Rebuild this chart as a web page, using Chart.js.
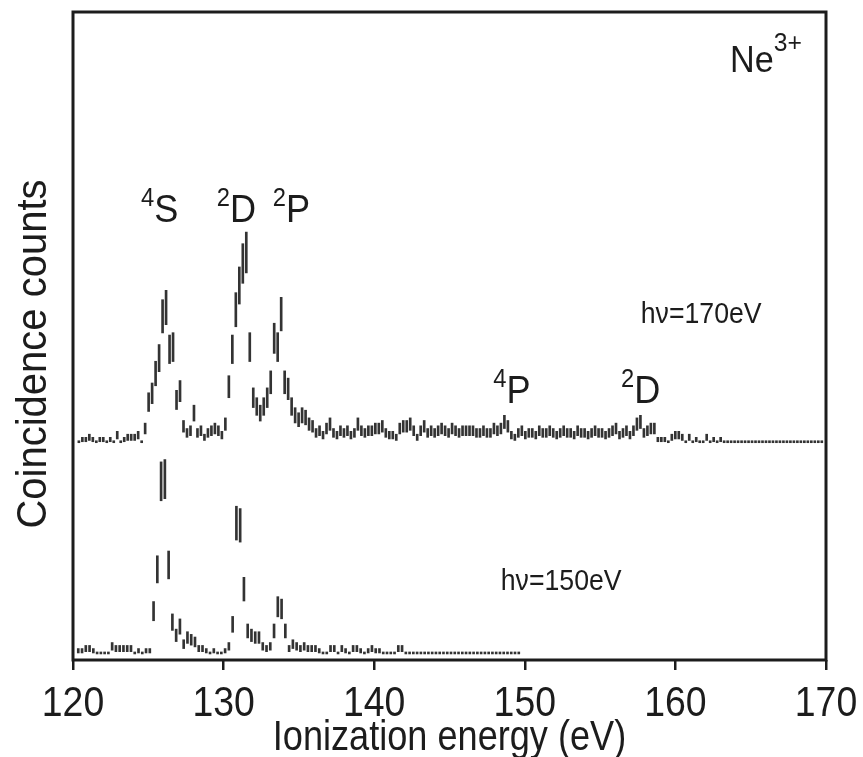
<!DOCTYPE html>
<html>
<head>
<meta charset="utf-8">
<script src="https://cdn.jsdelivr.net/npm/chart.js@4.4.1/dist/chart.umd.min.js"></script>
<style>
  html, body { margin: 0; padding: 0; background: #ffffff; }
  #wrap { width: 863px; height: 757px; }
</style>
</head>
<body>
<div id="wrap"><canvas id="chart" width="863" height="757"></canvas></div>
<script>
// Ne3+ photoelectron coincidence spectra, two photon energies.
// Each spectrum: first bin centre (eV), bin width (eV) and counts per bin.
const start170 = 120.39, step170 = 0.2316;
const start150 = 120.35, step150 = 0.25;

const counts170 = [
  0, 1, 1, 2, 1, 0, 1, 1, 0, 1,    0, 3, 0, 1, 2, 2, 2, 3, 0, 6,
  18, 22, 31, 38, 57, 61, 42, 43, 19, 23,
  7, 4, 5, 13, 4, 5, 2, 4, 5, 6,
  5, 3, 8, 25, 42, 60, 71, 81, 86, 43,
  20, 16, 13, 16, 20, 27, 47, 43, 58, 27,
  24, 16, 12, 10, 12, 11, 8, 7, 4, 5,
  3, 6, 8, 4, 3, 5, 4, 5, 3, 4,
  8, 5, 4, 5, 5, 6, 6, 7, 4, 3,
  3, 2, 6, 7, 7, 8, 5, 2, 5, 7,
  4, 5, 4, 5, 6, 5, 4, 6, 5, 4,
  5, 5, 5, 5, 4, 4, 5, 4, 4, 6,
  5, 6, 9, 7, 3, 2, 4, 5, 3, 4,
  4, 3, 5, 4, 4, 5, 4, 3, 4, 5,
  4, 4, 3, 5, 4, 4, 3, 4, 5, 4,
  4, 3, 4, 5, 6, 3, 4, 5, 3, 5,
  8, 9, 4, 5, 6, 6, 1, 1, 1, 0,
  2, 3, 3, 2, 0, 2, 0, 1, 0, 0,
  2, 0, 1, 0, 1, 0, 0, 0, 0, 0,
  0, 0, 0, 0, 0, 0, 0, 0, 0, 0,
  0, 0, 0, 0, 0, 0, 0, 0, 0, 0,
  0, 0, 0, 0
];

const counts150 = [
  1, 1, 2, 2, 1, 0, 0, 0, 0, 3,
  2, 2, 2, 2, 2, 0, 1, 0, 1, 1,
  19, 38, 78, 79, 40, 14, 8, 12, 4, 7,
  6, 5, 2, 2, 1, 0, 1, 0, 0, 1,
  3, 13, 59, 58, 29, 10, 8, 7, 7, 3,
  2, 3, 10, 21, 20, 10, 2, 4, 3, 2,
  3, 2, 2, 2, 1, 0, 0, 2, 2, 0,
  2, 1, 0, 2, 2, 1, 0, 1, 2, 1,
  1, 0, 0, 0, 0, 2, 2,
  0, 0, 0, 0, 0, 0, 0, 0, 0, 0,
  0, 0, 0, 0, 0, 0, 0, 0, 0, 0,
  0, 0, 0, 0, 0, 0, 0, 0, 0, 0, 0
];

// vertical shift applied to the hv = 170 eV trace
const offset170 = 96;
const xTickValues = [120, 130, 140, 150, 160, 170];

const FONT = "'Liberation Sans', Arial, Helvetica, sans-serif";
const INK = '#1c1c1c';

// counts -> floating bars spanning N +/- sqrt(N) (Poisson error)
function errorBars(counts, e0, de, shift) {
  return counts.map((n, i) => {
    const err = Math.max(Math.sqrt(n), 0.45);
    return { x: e0 + de * i, y: [shift + n - err, shift + n + err] };
  });
}

// horizontally condensed text run, optionally with superscript pieces
function drawRich(ctx, parts, x, y, align, sx) {
  const widths = parts.map(p => {
    ctx.font = p.size + 'px ' + FONT;
    return ctx.measureText(p.t).width * sx;
  });
  const total = widths.reduce((a, b) => a + b, 0);
  let cx = align === 'center' ? x - total / 2 : align === 'right' ? x - total : x;
  parts.forEach((p, i) => {
    ctx.save();
    ctx.font = p.size + 'px ' + FONT;
    ctx.textAlign = 'left';
    ctx.textBaseline = 'alphabetic';
    ctx.translate(cx, y + (p.dy || 0));
    ctx.scale(sx, 1);
    ctx.fillText(p.t, 0, 0);
    ctx.restore();
    cx += widths[i];
  });
}

const framePlugin = {
  id: 'frame',
  afterDatasetsDraw(chart) {
    const { ctx, chartArea: a } = chart;
    ctx.save();
    ctx.strokeStyle = INK;
    ctx.lineWidth = 3;
    ctx.strokeRect(a.left, a.top, a.right - a.left, a.bottom - a.top);
    ctx.restore();
  }
};

const textPlugin = {
  id: 'texts',
  afterDraw(chart) {
    const { ctx, chartArea: a } = chart;
    const xs = chart.scales.x, ys = chart.scales.y;
    const px = v => xs.getPixelForValue(v);
    const py = v => ys.getPixelForValue(v);
    ctx.save();
    ctx.fillStyle = INK;

    // tick labels
    xTickValues.forEach(v => {
      drawRich(ctx, [{ t: String(v), size: 43 }], px(v), a.bottom + 56, 'center', 0.87);
    });

    // axis titles
    drawRich(ctx, [{ t: 'Ionization energy (eV)', size: 42 }], (a.left + a.right) / 2, 750, 'center', 0.86);
    ctx.save();
    ctx.translate(46, 354);
    ctx.rotate(-Math.PI / 2);
    drawRich(ctx, [{ t: 'Coincidence counts', size: 43 }], 0, 0, 'center', 0.93);
    ctx.restore();

    // ion label
    drawRich(ctx, [{ t: 'Ne', size: 36 }, { t: '3+', size: 26, dy: -21 }], px(168.4), py(264), 'right', 0.95);

    // state labels
    const sup = (s, m) => [{ t: s, size: 25, dy: -16 }, { t: m, size: 38 }];
    drawRich(ctx, sup('4', 'S'), px(125.75), py(196), 'center', 0.95);
    drawRich(ctx, sup('2', 'D'), px(130.85), py(196), 'center', 0.95);
    drawRich(ctx, sup('2', 'P'), px(134.5), py(196), 'center', 0.95);
    drawRich(ctx, sup('4', 'P'), px(149.15), py(113.5), 'center', 0.95);
    drawRich(ctx, sup('2', 'D'), px(157.7), py(113.5), 'center', 0.95);

    // photon energies
    drawRich(ctx, [{ t: 'h\u03bd=170eV', size: 29 }], px(157.7), py(150), 'left', 0.92);
    drawRich(ctx, [{ t: 'h\u03bd=150eV', size: 29 }], px(148.4), py(28.6), 'left', 0.92);
    ctx.restore();
  }
};

new Chart(document.getElementById('chart'), {
  type: 'bar',
  data: {
    datasets: [
      {
        label: 'hv=170eV',
        data: errorBars(counts170, start170, step170, offset170),
        backgroundColor: '#333333',
        barThickness: 2,
        grouped: false
      },
      {
        label: 'hv=150eV',
        data: errorBars(counts150, start150, step150, 0),
        backgroundColor: '#333333',
        barThickness: 2,
        grouped: false
      }
    ]
  },
  options: {
    responsive: false,
    animation: false,
    devicePixelRatio: 1,
    layout: { padding: { left: 73, top: 12, right: 37, bottom: 0 } },
    plugins: { legend: { display: false }, tooltip: { enabled: false } },
    scales: {
      x: {
        type: 'linear',
        min: 120,
        max: 170,
        offset: false,
        afterBuildTicks: s => { s.ticks = xTickValues.map(v => ({ value: v })); },
        afterFit: s => { s.height = 97; },
        grid: {
          drawOnChartArea: false,
          drawTicks: true,
          tickLength: 10,
          lineWidth: 2.5,
          color: INK,
          offset: false
        },
        border: { display: false },
        ticks: { display: false }
      },
      y: {
        display: false,
        min: -3.2,
        max: 291.3
      }
    }
  },
  plugins: [framePlugin, textPlugin]
});
</script>
</body>
</html>
